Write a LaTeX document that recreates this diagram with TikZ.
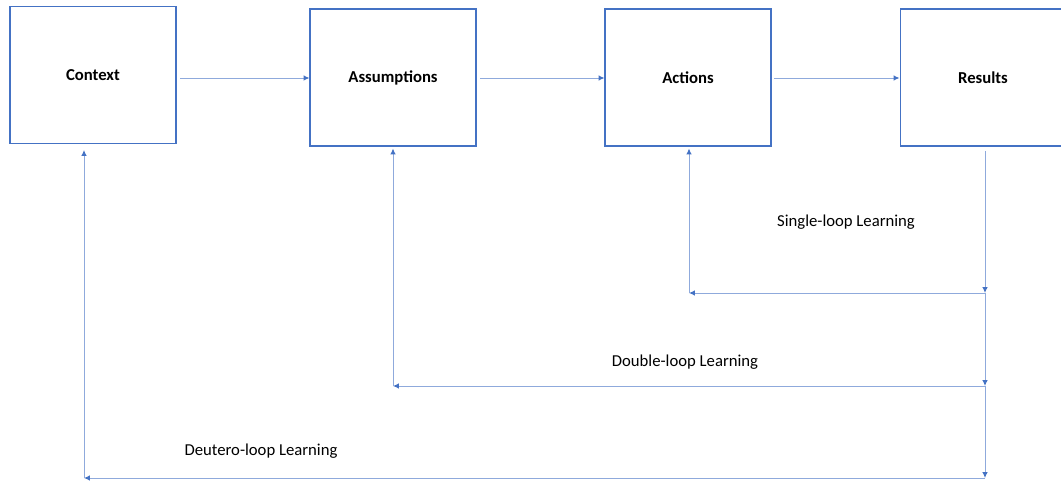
\documentclass[tikz,border=0pt]{standalone}
\usepackage{fontspec}
\setmainfont{Carlito}
\usetikzlibrary{arrows.meta}
\definecolor{boxblue}{HTML}{4472C4}
\definecolor{lineblue}{HTML}{8FAADC}
\begin{document}
\begin{tikzpicture}[x=0.02cm,y=-0.02cm,
  box/.style={draw=boxblue, line width=0.6pt, minimum width=3.32cm, minimum height=2.74cm, inner sep=0pt, font=\fontsize{9.5}{11}\selectfont\bfseries},
  conn/.style={draw=lineblue, line width=0.55pt, -{Latex[length=3.4pt,width=3.2pt,color=boxblue]}},
  lbl/.style={font=\fontsize{9.5}{11}\selectfont, inner sep=0pt}]
\useasboundingbox (0,0) rectangle (1061,482);
\clip (0,0) rectangle (1061,482);
\node[box] (ctx) at (93,75) {Context};
\node[box] (asm) at (393,77.5) {Assumptions};
\node[box] (act) at (688,77.5) {Actions};
\node[box] (res) at (983,77.5) {Results};
\coordinate (rtop) at (985,151);
\coordinate (r1) at (985,293);
\coordinate (r2) at (985,386);
\coordinate (r3) at (985,478);
\coordinate (a1) at (689,293);
\coordinate (a2) at (393,386);
\coordinate (a3) at (84,478);
\coordinate (h1) at (180,78);
\coordinate (h2) at (480,78);
\coordinate (h3) at (774,78);
\draw[conn] (h1) -- (h1 -| asm.west);
\draw[conn] (h2) -- (h2 -| act.west);
\draw[conn] (h3) -- (h3 -| res.west);
\draw[conn] (rtop) -- (r1);
\draw[conn] (r1) -- (r2);
\draw[conn] (r2) -- (r3);
\draw[conn] (r1) -- (a1);
\draw[conn, shorten >=0.04cm] (a1) -- (a1 |- act.south);
\draw[conn] (r2) -- (a2);
\draw[conn, shorten >=0.04cm] (a2) -- (a2 |- asm.south);
\draw[conn] (r3) -- (a3);
\draw[conn, shorten >=0.12cm] (a3) -- (a3 |- ctx.south);
\node[lbl] (l1) at (846,222) {Single-loop Learning};
\node[lbl] (l2) at (685,362) {Double-loop Learning};
\node[lbl] (l3) at (261,451) {Deutero-loop Learning};
\end{tikzpicture}
\end{document}
